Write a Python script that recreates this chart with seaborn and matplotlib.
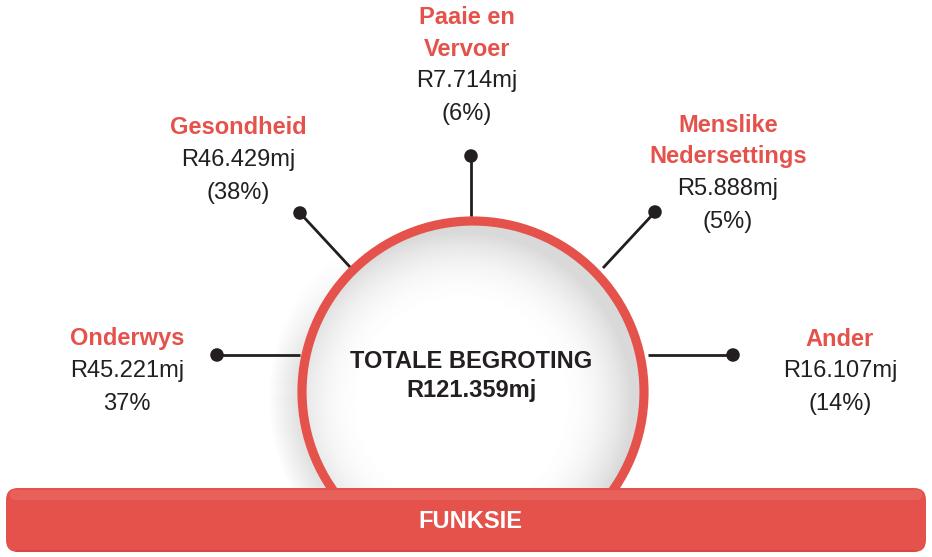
import numpy as np
import pandas as pd
import matplotlib.pyplot as plt
import seaborn as sns
from matplotlib.patches import Circle, FancyBboxPatch, Rectangle

# Budget by function (R million)
categories = ["Onderwys", "Gesondheid", "Paaie en\nVervoer", "Menslike\nNedersettings", "Ander"]
amounts = [45.221, 46.429, 7.714, 5.888, 16.107]
share_labels = ["37%", "(38%)", "(6%)", "(5%)", "(14%)"]
total_amount = 121.359

RED = "#E5514B"
INK = "#231F20"

sns.set_theme(style="white")
plt.rcParams["font.family"] = ["Liberation Sans", "DejaVu Sans"]

fig = plt.figure(figsize=(9.32, 5.57), dpi=100)
ax = fig.add_axes([0, 0, 1, 1])
ax.set_xlim(0, 932)
ax.set_ylim(557, 0)
ax.axis("off")

# ring geometry (pixels)
cx, cy, R = 473, 392, 171

# soft gray shading inside the ring
yy, xx = np.mgrid[0:557, 0:932]
rr = np.hypot(xx - cx + 12, yy - cy - 10) / R
shade = np.clip((rr - 0.55) / 0.45, 0, 1) ** 2.2 * 0.27
shade[yy > 495] = 0
img = np.ones((557, 932, 4))
img[..., :3] = 0.45
img[..., 3] = shade
im = ax.imshow(img, extent=[0, 932, 557, 0], zorder=1, interpolation="bilinear")
im.set_clip_path(Circle((cx, cy), R, transform=ax.transData))

# faint shadow outside the ring on the lower left
ro = np.hypot(xx - cx + 6, yy - cy - 6)
out = np.clip(1 - (ro - R) / 28, 0, 1) * (ro > R - 4)
out *= np.clip((cx - xx + 60) / 160, 0, 1) * np.clip((yy - 250) / 120, 0, 1)
out[yy > 495] = 0
img2 = np.zeros((557, 932, 4))
img2[..., :3] = 0.5
img2[..., 3] = out * 0.22
ax.imshow(img2, extent=[0, 932, 557, 0], zorder=1, interpolation="bilinear")

ring = Circle((cx, cy), R, fill=False, ec=RED, lw=6.6, zorder=3)
ax.add_patch(ring)
ring.set_clip_path(Rectangle((0, 0), 932, 500, transform=ax.transData))

# spokes: ring point -> dot
layout = pd.DataFrame({
    "category": categories,
    "x0": [300, 350, 471, 603, 648],
    "y0": [355, 267, 216, 268, 355],
    "dot_x": [217, 300, 471, 655, 733],
    "dot_y": [355, 213, 156, 212, 355],
})
for _, row in layout.iterrows():
    ax.plot([row.x0, row.dot_x], [row.y0, row.dot_y], color=INK, lw=2.0,
            solid_capstyle="butt", zorder=4)
sns.scatterplot(data=layout, x="dot_x", y="dot_y", ax=ax, color=INK, s=95,
                edgecolor="none", zorder=5, legend=False)
ax.set_xlim(0, 932)
ax.set_ylim(557, 0)
ax.axis("off")

# labels
label_pos = [(127, 339), (238, 128), (467, 18), (728, 126), (840, 339)]
fs = 17
for name, amt, share, (lx, ly) in zip(categories, amounts, share_labels, label_pos):
    y = ly
    for line in name.split("\n"):
        ax.text(lx, y, line, ha="center", va="center", fontsize=fs,
                fontweight="bold", color=RED, zorder=6)
        y += 31
    ax.text(lx, y + 1, f"R{amt:.3f}mj", ha="center", va="center", fontsize=fs,
            color=INK, zorder=6)
    ax.text(lx, y + 34, share, ha="center", va="center", fontsize=fs,
            color=INK, zorder=6)

ax.text(471, 361, "TOTALE BEGROTING", ha="center", va="center", fontsize=fs,
        fontweight="bold", color=INK, zorder=6)
ax.text(472, 391, f"R{total_amount:.3f}mj", ha="center", va="center", fontsize=fs,
        fontweight="bold", color=INK, zorder=6)

# bottom bar
bar = FancyBboxPatch((6, 488), 920, 64, boxstyle="round,pad=0,rounding_size=12",
                     fc=RED, ec="none", zorder=7)
ax.add_patch(bar)
hl = FancyBboxPatch((10, 490), 912, 10, boxstyle="round,pad=0,rounding_size=5",
                    fc="#EE8580", ec="none", alpha=0.3, zorder=7)
ax.add_patch(hl)
ax.plot([16, 916], [550.5, 550.5], color="#C8403B", lw=1.5, alpha=0.5, zorder=7)
ax.text(470, 522, "FUNKSIE", ha="center", va="center", fontsize=fs,
        fontweight="bold", color="white", zorder=8)

plt.savefig("out.png", dpi=100)
